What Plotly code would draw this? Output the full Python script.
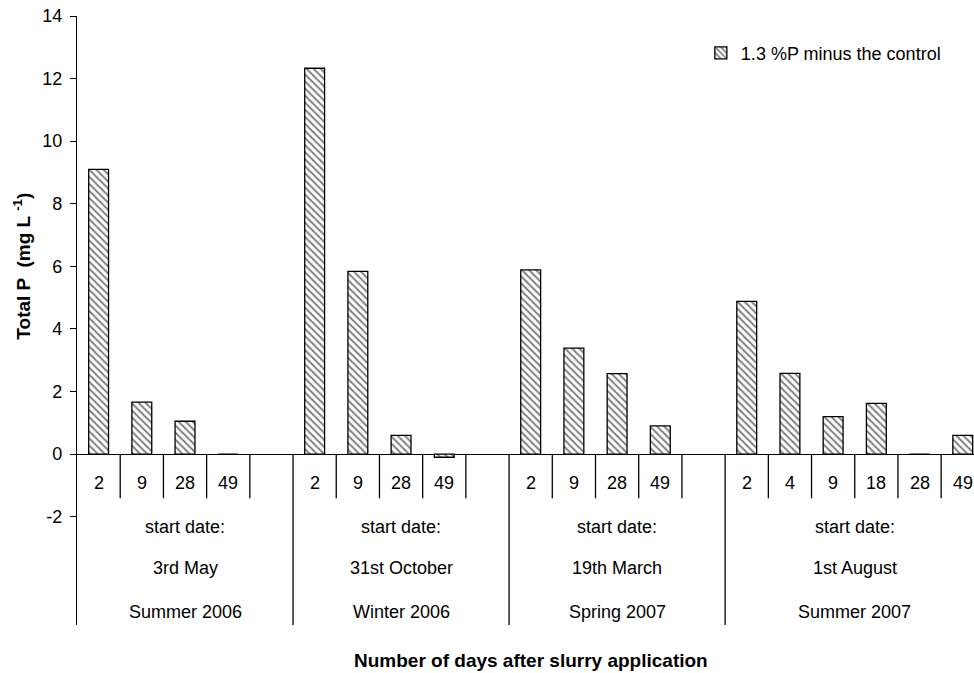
import plotly.graph_objects as go

# Treatment periods (outer category level), start dates (middle level)
seasons = ["Summer 2006", "Winter 2006", "Spring 2007", "Summer 2007"]
start_dates = ["3rd May", "31st October", "19th March", "1st August"]

# Days after slurry application (inner level); "" marks an empty spacer slot
days_summer_2006 = ["2", "9", "28", "49", ""]
days_winter_2006 = ["2", "9", "28", "49", ""]
days_spring_2007 = ["2", "9", "28", "49", ""]
days_summer_2007 = ["2", "4", "9", "18", "28", "49"]

# Total P (mg L-1), 1.3 %P treatment minus the control
tp_summer_2006 = [9.1, 1.66, 1.05, 0.0, None]
tp_winter_2006 = [12.33, 5.84, 0.6, -0.1, None]
tp_spring_2007 = [5.89, 3.39, 2.57, 0.9, None]
tp_summer_2007 = [4.88, 2.58, 1.2, 1.62, 0.0, 0.6]

y_ticks = [-2, 0, 2, 4, 6, 8, 10, 12, 14]
y_tick_text = ["-2", "0", "2", "4", "6", "8", "10", "12", "14"]

group_days = [days_summer_2006, days_winter_2006, days_spring_2007, days_summer_2007]
group_vals = [tp_summer_2006, tp_winter_2006, tp_spring_2007, tp_summer_2007]

FONT = "Liberation Sans, Arial, sans-serif"
FS = 18
FS_TITLE = 19

# flatten categories onto consecutive slots
xs, ys, labels = [], [], []
slot = 0
group_bounds = []
for g, (dl, vl) in enumerate(zip(group_days, group_vals)):
    start = slot
    for d, v in zip(dl, vl):
        xs.append(slot)
        ys.append(v)
        labels.append(d)
        slot += 1
    group_bounds.append((start, slot - 1))
n_slots = slot

y_min, y_max = -5.46, 14
row_day, row_start, row_date, row_season = -0.93, -2.33, -3.64, -5.05
inner_tick_end = -1.41

bar_x = [x for x, v in zip(xs, ys) if v is not None]
bar_y = [v for v in ys if v is not None]

fig = go.Figure()
fig.add_trace(go.Bar(
    x=bar_x, y=bar_y, width=0.46,
    name="1.3 %P minus the control",
    marker=dict(
        color="white",
        line=dict(color="black", width=1.3),
        pattern=dict(shape="\\", fgcolor="black", bgcolor="white", size=5, solidity=0.4),
    ),
    showlegend=True,
))

shapes = []
annotations = []
# category separators: short ones inside a group, long ones between groups
for g, (a, b) in enumerate(group_bounds):
    for k in range(a, b):
        shapes.append(dict(type="line", xref="x", yref="y", x0=k + 0.5, x1=k + 0.5,
                           y0=0, y1=inner_tick_end, line=dict(color="black", width=1.3)))
    shapes.append(dict(type="line", xref="x", yref="y", x0=b + 0.5, x1=b + 0.5,
                       y0=0, y1=y_min, line=dict(color="black", width=1.3)))
    centre = (a + b) / 2
    for txt, yy in (("start date:", row_start), (start_dates[g], row_date), (seasons[g], row_season)):
        annotations.append(dict(x=centre, y=yy, xref="x", yref="y", text=txt, showarrow=False,
                                xanchor="center",
                                font=dict(family=FONT, size=FS, color="black")))

for x, d in zip(xs, labels):
    if d:
        annotations.append(dict(x=x, y=row_day, xref="x", yref="y", text=d, showarrow=False,
                                xanchor="center",
                                font=dict(family=FONT, size=FS, color="black")))

# axis titles
annotations.append(dict(x=(n_slots - 1) / 2, y=-0.058, xref="x", yref="paper",
                        text="<b>Number of days after slurry application</b>", showarrow=False,
                        xanchor="center", yanchor="middle",
                        font=dict(family=FONT, size=FS_TITLE, color="black")))
annotations.append(dict(x=-0.061, y=(y_ticks[0] + y_ticks[-1]) / 2, xref="paper", yref="y",
                        text="<b>Total P  (mg L <sup>-1</sup>)</b>", showarrow=False, textangle=-90,
                        xanchor="center", yanchor="middle",
                        font=dict(family=FONT, size=FS_TITLE, color="black")))

fig.update_layout(
    width=974, height=673,
    margin=dict(l=77, r=0, t=16, b=48),
    paper_bgcolor="white", plot_bgcolor="white",
    font=dict(family=FONT, size=FS, color="black"),
    shapes=shapes, annotations=annotations,
    legend=dict(x=0.6955, y=0.939, xanchor="left", yanchor="middle",
                bgcolor="rgba(0,0,0,0)", font=dict(family=FONT, size=FS, color="black")),
    xaxis=dict(range=[-0.5, 20.26], showticklabels=False, showgrid=False,
               zeroline=False, showline=False, ticks=""),
    yaxis=dict(range=[y_min, y_max], tickvals=y_ticks, ticktext=y_tick_text, showgrid=False,
               showline=True, linecolor="black", linewidth=1.3,
               ticks="outside", ticklen=6, tickcolor="black", tickwidth=1.3,
               ticklabelstandoff=4,
               zeroline=True, zerolinecolor="black", zerolinewidth=1.3,
               tickfont=dict(family=FONT, size=FS, color="black")),
)

fig.write_html("out.html")
